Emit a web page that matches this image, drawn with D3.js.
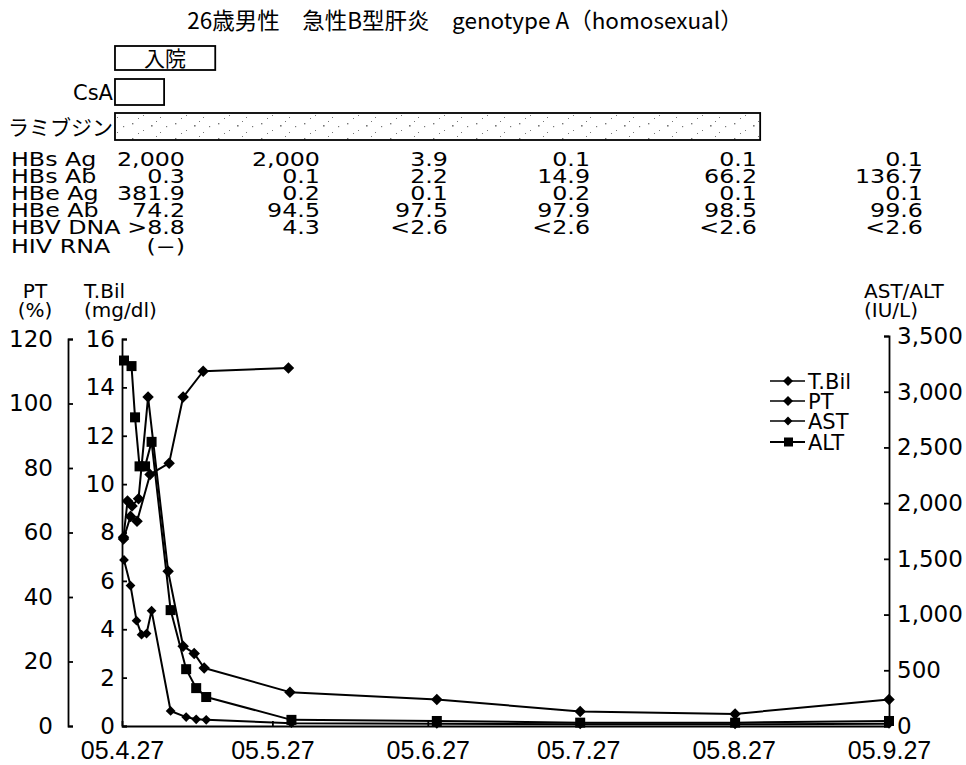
<!DOCTYPE html>
<html>
<head>
<meta charset="utf-8">
<script src="https://cdn.jsdelivr.net/npm/d3@7/dist/d3.min.js"></script>
<style>
  body { margin: 0; background: #fff; }
  svg { display: block; }
</style>
</head>
<body>
<svg id="chart" width="966" height="765"></svg>
<script>
// ---- data (x = days counted from 05.4.27) ----
const tickDays   = [0, 30, 61, 91, 122, 153];
const tickLabels = ["05.4.27", "05.5.27", "05.6.27", "05.7.27", "05.8.27", "05.9.27"];

const tbilDays   = [0.3, 1.1, 2.0, 3.3, 5.2, 9.2, 12.2, 14.4, 16.4, 33.5, 62.8, 91.4, 122.3, 153];
const tbilValues = [7.8, 9.3, 9.1, 9.4, 13.6, 6.4, 3.3, 3.0, 2.4, 1.4, 1.1, 0.6, 0.5, 1.1];

const ptDays     = [0.3, 1.7, 3.0, 5.6, 9.4, 12.2, 16.2, 33.2];
const ptValues   = [58, 65, 63.5, 78, 81.5, 102, 110, 111];

const astDays    = [0.4, 1.7, 2.9, 3.9, 4.9, 5.9, 9.7, 12.8, 14.8, 16.8, 33.8, 62.8, 91.4, 122.3, 153];
const astValues  = [1490, 1260, 945, 820, 830, 1035, 135, 80, 60, 55, 25, 20, 15, 15, 20];

const altDays    = [0.4, 1.9, 2.6, 3.5, 4.6, 5.9, 9.7, 12.8, 14.8, 16.8, 33.8, 62.8, 91.4, 122.3, 153];
const altValues  = [3280, 3230, 2770, 2330, 2330, 2550, 1040, 510, 340, 260, 55, 45, 30, 30, 45];

const ptTicks   = [0, 20, 40, 60, 80, 100, 120];
const tbilTicks = [0, 2, 4, 6, 8, 10, 12, 14, 16];
const enzTicks  = [0, 500, 1000, 1500, 2000, 2500, 3000, 3500];

// treatment periods (days from 05.4.27)
const therapyNames = ["入院", "CsA", "ラミブジン"];
const therapyStart = [-1.4, -1.4, -1.4];
const therapyEnd   = [18.6, 8.4, 127.3];

// viral markers, one column per test date
const markerNames = ["HBs Ag", "HBs Ab", "HBe Ag", "HBe Ab", "HBV DNA", "HIV RNA"];
const markerCol1 = ["2,000", "0.3", "381.9", "74.2", ">8.8", "(−)"];
const markerCol2 = ["2,000", "0.1", "0.2", "94.5", "4.3", ""];
const markerCol3 = ["3.9", "2.2", "0.1", "97.5", "<2.6", ""];
const markerCol4 = ["0.1", "14.9", "0.2", "97.9", "<2.6", ""];
const markerCol5 = ["0.1", "66.2", "0.1", "98.5", "<2.6", ""];
const markerCol6 = ["0.1", "136.7", "0.1", "99.6", "<2.6", ""];

const legendNames = ["T.Bil", "PT", "AST", "ALT"];

// ---- layout ----
const svg = d3.select("#chart");
const X0 = 122, X1 = 889, Y0 = 726;
const FONT = "'Liberation Sans', Arial, sans-serif";
const NUMFONT = "'DejaVu Sans', sans-serif";
const JPFONT = "'Noto Sans CJK JP', sans-serif";

const x = d3.scaleLinear().domain([0, 153]).range([X0, X1]);
const yPT = d3.scaleLinear().domain([0, 120]).range([Y0, 339]);
const yTB = d3.scaleLinear().domain([0, 16]).range([Y0, 339]);
const yEN = d3.scaleLinear().domain([0, 3500]).range([Y0, 336]);

// speckled fill for the lamivudine bar
const defs = svg.append("defs");
const pat = defs.append("pattern").attr("id", "stipple")
  .attr("patternUnits", "userSpaceOnUse").attr("width", 43).attr("height", 15);
[[3,3,1.4],[14,10,1],[22,5,1.6],[31,12,1],[37,6,1.2],[9,13,1],[27,1,1]].forEach(p => {
  pat.append("rect").attr("x", p[0]).attr("y", p[1]).attr("width", p[2]).attr("height", p[2]).attr("fill", "#777");
});

// title
svg.append("text").attr("x", 465).attr("y", 29).attr("text-anchor", "middle")
  .style("font-family", JPFONT).style("font-size", "22.5px")
  .text("26歳男性　急性B型肝炎　genotype A（homosexual）");

// treatment bars
const barTop = [46, 79, 113], barH = [24, 26, 27];
therapyNames.forEach((name, i) => {
  const x0 = x(therapyStart[i]), x1 = x(therapyEnd[i]);
  svg.append("rect").attr("x", x0).attr("y", barTop[i]).attr("width", x1 - x0).attr("height", barH[i])
    .attr("fill", i === 2 ? "url(#stipple)" : "#fff").attr("stroke", "#000").attr("stroke-width", 1.8);
  if (i === 0) {
    svg.append("text").attr("x", (x0 + x1) / 2).attr("y", barTop[i] + barH[i] / 2 + 7.5)
      .attr("text-anchor", "middle").style("font-family", JPFONT)
      .style("font-size", "21px").text(name);
  } else {
    svg.append("text").attr("x", x0 - 2).attr("y", barTop[i] + barH[i] / 2 + 8)
      .attr("text-anchor", "end").style("font-family", i === 1 ? NUMFONT : JPFONT)
      .style("font-size", "21px").text(name);
  }
});

// marker table (glyphs are set wide and low)
const SX = 1.25;
const rowY = [166, 183, 200, 217, 234, 253];
const colRight = [185, 320, 448, 590, 757, 923];
const cols = [markerCol1, markerCol2, markerCol3, markerCol4, markerCol5, markerCol6];
const tbl = svg.append("g").attr("transform", `scale(${SX},1)`)
  .style("font-family", NUMFONT).style("font-size", "19px");
markerNames.forEach((n, r) => {
  tbl.append("text").attr("x", 11 / SX).attr("y", rowY[r]).text(n);
});
cols.forEach((col, c) => {
  col.forEach((v, r) => {
    if (v) tbl.append("text").attr("x", colRight[c] / SX).attr("y", rowY[r]).attr("text-anchor", "end").text(v);
  });
});

// axis titles
const ttl = svg.append("g").style("font-family", NUMFONT).style("font-size", "20px");
ttl.append("text").attr("x", 35).attr("y", 298).attr("text-anchor", "middle").text("PT");
ttl.append("text").attr("x", 35).attr("y", 317).attr("text-anchor", "middle").text("(%)");
ttl.append("text").attr("x", 84).attr("y", 298).text("T.Bil");
ttl.append("text").attr("x", 84).attr("y", 317).text("(mg/dl)");
ttl.append("text").attr("x", 864).attr("y", 298).text("AST/ALT");
ttl.append("text").attr("x", 864).attr("y", 317).text("(IU/L)");

// axes
function styleAxis(g) {
  g.selectAll("path, line").attr("stroke", "#000").attr("stroke-width", 1.8);
  g.selectAll("text").style("font-family", NUMFONT).style("font-size", "23px").attr("fill", "#000");
}
svg.append("g").attr("transform", "translate(68,0)")
  .call(d3.axisLeft(yPT).tickValues(ptTicks).tickSize(-5).tickPadding(15).tickSizeOuter(-5))
  .call(styleAxis);
svg.append("g").attr("transform", `translate(${X0},0)`)
  .call(d3.axisLeft(yTB).tickValues(tbilTicks).tickSize(-5).tickPadding(7).tickSizeOuter(-5))
  .call(styleAxis);
svg.append("g").attr("transform", `translate(${X1},0)`)
  .call(d3.axisRight(yEN).tickValues(enzTicks).tickSize(-5).tickPadding(8).tickSizeOuter(-5)
    .tickFormat(d3.format(",")))
  .call(styleAxis);
const xAxis = svg.append("g").attr("transform", `translate(0,${Y0})`)
  .call(d3.axisBottom(x).tickValues(tickDays).tickSize(-5).tickSizeOuter(0).tickPadding(15)
    .tickFormat((d, i) => tickLabels[i]))
  .call(styleAxis);
xAxis.selectAll("text").style("font-family", FONT).style("font-size", "25px");

// series
const diamond = d3.symbol().type(d3.symbolDiamond2);
function drawSeries(days, vals, yScale, kind, size) {
  const pts = days.map((d, i) => [x(d), yScale(vals[i])]);
  svg.append("path").attr("d", d3.line()(pts)).attr("fill", "none")
    .attr("stroke", "#000").attr("stroke-width", 2).attr("stroke-linejoin", "round");
  const g = svg.append("g");
  pts.forEach(p => {
    if (kind === "square") {
      g.append("rect").attr("x", p[0] - size / 2).attr("y", p[1] - size / 2)
        .attr("width", size).attr("height", size).attr("fill", "#000");
    } else {
      g.append("path").attr("transform", `translate(${p[0]},${p[1]})`)
        .attr("d", diamond.size(size * size / 2)()).attr("fill", "#000");
    }
  });
}
drawSeries(astDays, astValues, yEN, "diamond", 11);
drawSeries(altDays, altValues, yEN, "square", 10);
drawSeries(ptDays, ptValues, yPT, "diamond", 13);
drawSeries(tbilDays, tbilValues, yTB, "diamond", 13);

// legend
const legY = [381, 401, 421, 442];
const leg = svg.append("g");
legendNames.forEach((n, i) => {
  leg.append("line").attr("x1", 770).attr("x2", 805).attr("y1", legY[i]).attr("y2", legY[i])
    .attr("stroke", "#000").attr("stroke-width", i === 3 ? 2 : 1.4);
  if (i === 3) {
    leg.append("rect").attr("x", 784).attr("y", legY[i] - 4.5).attr("width", 9).attr("height", 9).attr("fill", "#000");
  } else {
    leg.append("path").attr("transform", `translate(788,${legY[i]})`)
      .attr("d", diamond.size(i === 2 ? 50 : 64)()).attr("fill", "#000");
  }
  leg.append("text").attr("x", 808).attr("y", legY[i] + 7.5).style("font-family", NUMFONT)
    .style("font-size", "21px").text(n);
});
</script>
</body>
</html>
